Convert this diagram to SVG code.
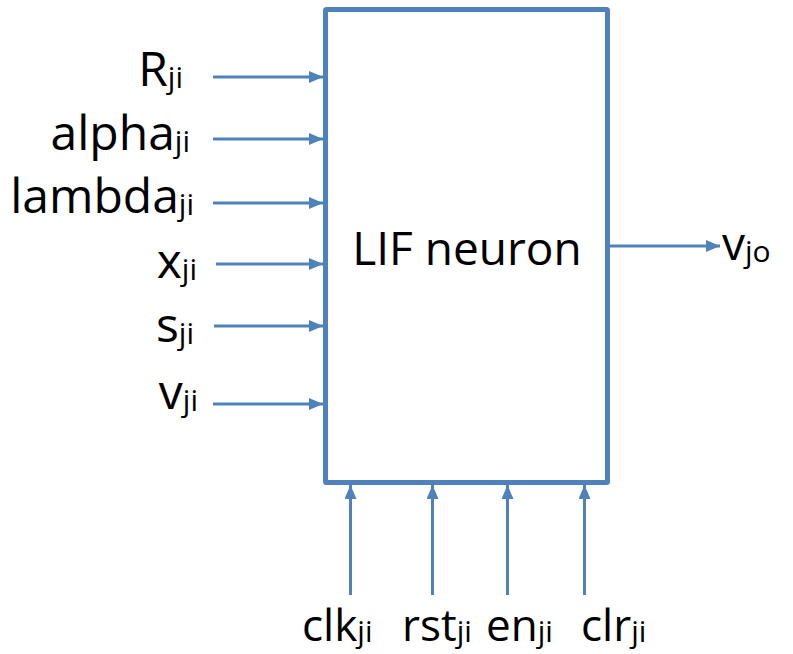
<svg xmlns="http://www.w3.org/2000/svg" width="793" height="654" viewBox="0 0 793 654">
<defs>
<marker id="ah" viewBox="0 0 14 12" refX="14" refY="6" markerWidth="14" markerHeight="12" markerUnits="userSpaceOnUse" orient="auto">
<path d="M0,0 L14,6 L0,12 Z" fill="#4F81BD"/>
</marker>
<style>
.ln{stroke:#4F81BD;stroke-width:3;fill:none;marker-end:url(#ah)}
.t{font-family:"Open Sans","Liberation Sans",sans-serif;font-size:46px;fill:#000}
.l{font-size:48px}
.b{font-size:44px}
.s{font-size:30px}
</style>
</defs>
<rect width="793" height="654" fill="#fff"/>
<g id="neuron">
<rect x="325.5" y="9.5" width="282" height="473" fill="#fff" stroke="#4F81BD" stroke-width="5" rx="1"/>
<text class="t" x="467" y="265" text-anchor="middle">LIF neuron</text>
</g>
<g id="connectors">
<line class="ln" x1="213" y1="77" x2="323" y2="77"/>
<line class="ln" x1="213" y1="139" x2="323" y2="139"/>
<line class="ln" x1="213" y1="203" x2="323" y2="203"/>
<line class="ln" x1="216" y1="264" x2="323" y2="264"/>
<line class="ln" x1="214" y1="326" x2="323" y2="326"/>
<line class="ln" x1="213" y1="404" x2="323" y2="404"/>
<line class="ln" x1="610" y1="246" x2="720" y2="246"/>
<line class="ln" x1="350.5" y1="595" x2="350.5" y2="485"/>
<line class="ln" x1="432.5" y1="595" x2="432.5" y2="485"/>
<line class="ln" x1="507.5" y1="595" x2="507.5" y2="485"/>
<line class="ln" x1="584.5" y1="595" x2="584.5" y2="485"/>
</g>
<g id="in-R"><text class="t l" x="183" y="86" text-anchor="end">R<tspan class="s" dy="2">ji</tspan></text></g>
<g id="in-alpha"><text class="t l" x="190" y="150" text-anchor="end">alpha<tspan class="s" dy="2">ji</tspan></text></g>
<g id="in-lambda"><text class="t l" x="194" y="213" text-anchor="end">lambda<tspan class="s" dy="2">ji</tspan></text></g>
<g id="in-x"><text class="t l" x="197" y="278" text-anchor="end">x<tspan class="s" dy="2">ji</tspan></text></g>
<g id="in-s"><text class="t l" x="194" y="342" text-anchor="end">s<tspan class="s" dy="2">ji</tspan></text></g>
<g id="in-v"><text class="t l" x="198" y="409" text-anchor="end">v<tspan class="s" dy="2">ji</tspan></text></g>
<g id="out-v"><text class="t" x="722" y="260">v<tspan class="s" dy="2">jo</tspan></text></g>
<g id="in-clk"><text class="t b" x="302" y="641">clk<tspan class="s" dy="1">ji</tspan></text></g>
<g id="in-rst"><text class="t b" x="402" y="641">rst<tspan class="s" dy="1">ji</tspan></text></g>
<g id="in-en"><text class="t b" x="486" y="641">en<tspan class="s" dy="1">ji</tspan></text></g>
<g id="in-clr"><text class="t b" x="581" y="641">clr<tspan class="s" dy="1">ji</tspan></text></g>
</svg>
